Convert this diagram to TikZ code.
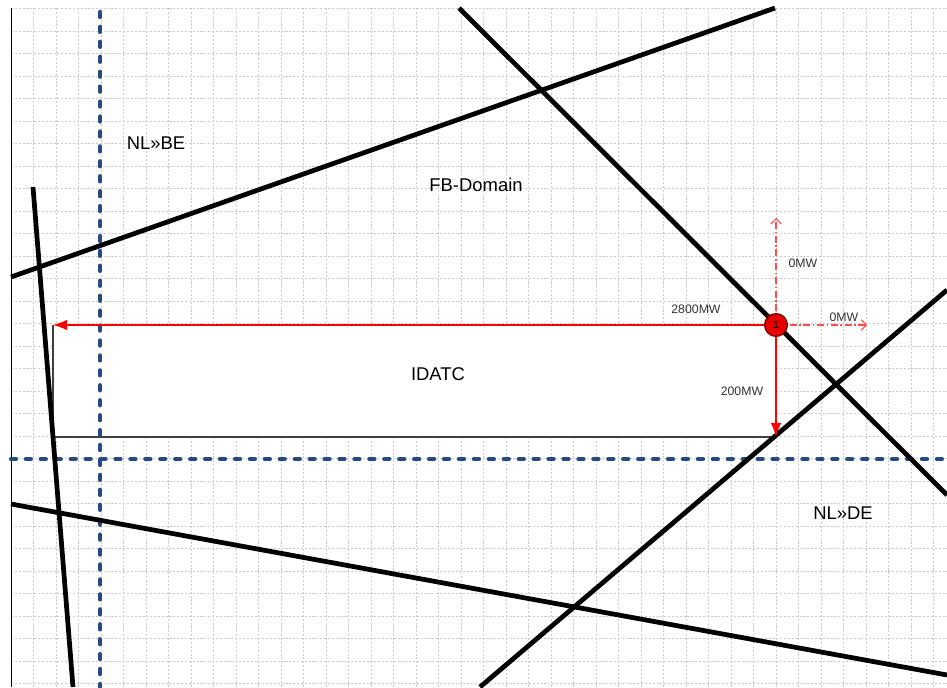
\documentclass[tikz,border=0pt]{standalone}
\usepackage{fontspec}
\setmainfont{Liberation Sans}
\usetikzlibrary{arrows.meta}
\definecolor{borderblue}{RGB}{38,74,128}
\definecolor{darkred}{RGB}{120,0,0}

\begin{document}
\begin{tikzpicture}[x=0.02cm,y=-0.02cm,
  gridline/.style={gray!40,line width=0.4pt,dash pattern=on 1.2pt off 1pt},
  border/.style={borderblue,line width=2.5pt,line cap=round,dash pattern=on 2.8pt off 5.7pt},
  cons/.style={black,line width=2.7pt},
  flow/.style={red,line width=0.7pt,-{Latex[length=8pt,width=6pt]}},
  zero/.style={red!70,line width=0.6pt,dash pattern=on 4pt off 1.5pt on 0.8pt off 1.5pt,-{Straight Barb[length=3pt,width=6pt]}},
  lbl/.style={font=\fontsize{10.5}{12}\selectfont},
  mw/.style={font=\fontsize{7}{8}\selectfont,text=black!80}]
\useasboundingbox (0,0) rectangle (947,687);
\fill[white] (0,0) rectangle (947,687);

% grid
\foreach \i in {0,...,41}
  \draw[gridline] ({11+22.5*\i},8) -- ({11+22.5*\i},687);
\foreach \j in {0,...,30}
  \draw[gridline] (11,{8.5+22.5*\j}) -- (947,{8.5+22.5*\j});
\draw[black,line width=0.5pt] (11,8) -- (11,687);

% IDATC box
\coordinate (rect-nw) at (53,325);
\coordinate (rect-sw) at (53,437);
\coordinate (rect-se) at (776,437);
\coordinate (pt1) at (776,325);
\fill[white] (rect-nw) rectangle (rect-se);
\draw[black!75,line width=0.6pt] (rect-nw) -- (rect-sw) -- (rect-se);

% borders
\draw[border] (100,12) -- (100,687);
\draw[border] (11,459) -- (947,459);

% constraints
\draw[cons] (33,187) -- (73,687);
\draw[cons] (11,277) -- (775,8);
\draw[cons] (459,8) -- (947,495);
\draw[cons] (480,687) -- (947,290);
\draw[cons] (11,504) -- (947,675);

% labels
\node[lbl] (NL-BE) at (156,143) {NL»BE};
\node[lbl] (FB-Domain) at (476,185) {FB-Domain};
\node[lbl] (IDATC) at (438,374) {IDATC};
\node[lbl] (NL-DE) at (843,513) {NL»DE};

% flows
\coordinate (up-end) at (776,218);
\coordinate (right-end) at (867,325);
\draw[flow] (pt1) -- (rect-nw);
\draw[flow] (pt1) -- (rect-se);
\draw[zero] (pt1) -- (up-end);
\draw[zero] (pt1) -- (right-end);
\node[mw] (mw-2800) at (696,309) {2800MW};
\node[mw] (mw-200) at (742,391) {200MW};
\node[mw] (mw-up) at (803,263) {0MW};
\node[mw] (mw-right) at (844,317) {0MW};

\node[circle,fill=red!90!black,draw=darkred,line width=0.7pt,minimum size=13pt,inner sep=0pt,
  font=\fontsize{6}{7}\selectfont] (p1) at (pt1) {1};
\end{tikzpicture}
\end{document}
